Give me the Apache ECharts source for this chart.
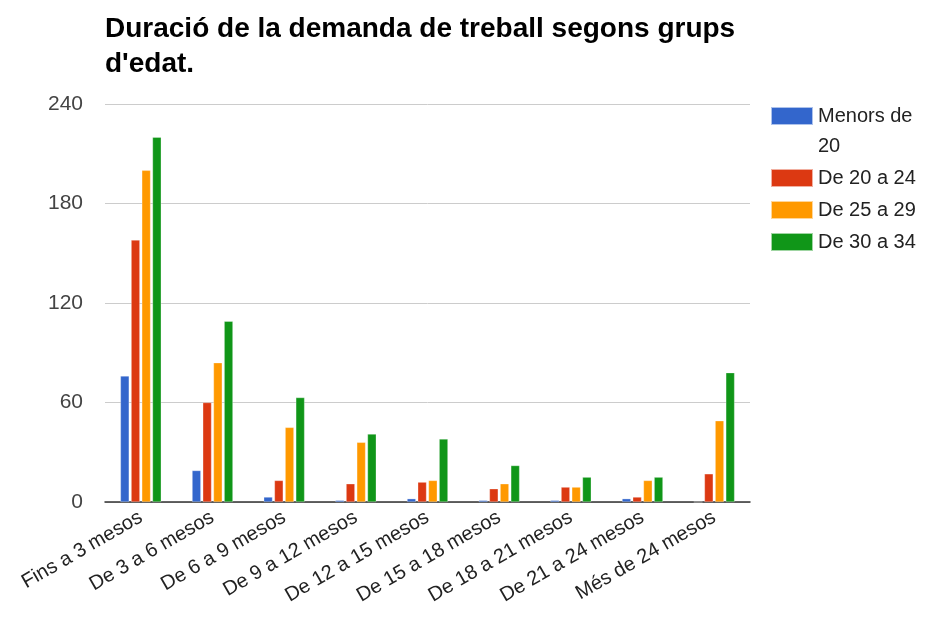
<!DOCTYPE html>
<html>
<head>
<meta charset="utf-8">
<script src="https://cdn.jsdelivr.net/npm/echarts@6/dist/echarts.min.js"></script>
<style>
    html, body { margin: 0; padding: 0; background: #fff; }
    #chart { width: 931px; height: 625px; }
</style>
</head>
<body>
<div id="chart"></div>
<script>
    // === Dades
    const CATEGORIES = [
        "Fins a 3 mesos", "De 3 a 6 mesos", "De 6 a 9 mesos", "De 9 a 12 mesos",
        "De 12 a 15 mesos", "De 15 a 18 mesos", "De 18 a 21 mesos", "De 21 a 24 mesos",
        "Més de 24 mesos"
    ];
    const SERIES_NAMES = ["Menors de 20", "De 20 a 24", "De 25 a 29", "De 30 a 34"];
    const MENORS_20 = [76, 19, 3, 1, 2, 1, 1, 2, 0];
    const DE_20_24 = [158, 60, 13, 11, 12, 8, 9, 3, 17];
    const DE_25_29 = [200, 84, 45, 36, 13, 11, 9, 13, 49];
    const DE_30_34 = [220, 109, 63, 41, 38, 22, 15, 15, 78];
    const Y_TICKS = [0, 60, 120, 180, 240];

    const COLORS = ['#3366cc', '#dc3912', '#ff9900', '#109618'];
    const FONT = 'Arial, "Liberation Sans", sans-serif';

    const chart = echarts.init(document.getElementById('chart'));

    const values = [MENORS_20, DE_20_24, DE_25_29, DE_30_34];

    chart.setOption({
        animation: false,
        color: COLORS,
        title: {
            text: "Duració de la demanda de treball segons grups\nd'edat.",
            left: 105,
            top: 12,
            padding: 0,
            textStyle: {
                fontFamily: FONT,
                fontSize: 28,
                fontWeight: 'bold',
                color: '#000',
                lineHeight: 35
            }
        },
        legend: {
            orient: 'vertical',
            left: 770,
            top: 76,
            padding: 0,
            itemWidth: 42,
            itemHeight: 18,
            itemGap: 12,
            itemTextGap: 13,
            icon: 'rect',
            data: SERIES_NAMES,
            formatter: function (name) {
                // el primer nom es parteix en dues línies com a l'original
                if (name === 'Menors de 20') return '{e| }\n{m|Menors de}\n{s|20}';
                return name;
            },
            textStyle: {
                fontFamily: FONT,
                fontSize: 20,
                color: '#222',
                lineHeight: 20,
                rich: {
                    e: { lineHeight: 16, fontSize: 20, fontFamily: FONT },
                    m: { lineHeight: 44, fontSize: 20, fontFamily: FONT, color: '#222' },
                    s: { lineHeight: 16, fontSize: 20, fontFamily: FONT, color: '#222' }
                }
            }
        },
        grid: {
            left: 105,
            right: 181,
            top: 104,
            bottom: 123,
            containLabel: false
        },
        xAxis: {
            type: 'category',
            data: CATEGORIES,
            axisTick: { show: false },
            axisLine: { lineStyle: { color: '#333', width: 1.5 } },
            axisLabel: {
                interval: 0,
                rotate: 30,
                margin: 14,
                fontFamily: FONT,
                fontSize: 20,
                color: '#222'
            }
        },
        yAxis: {
            type: 'value',
            min: Y_TICKS[0],
            max: Y_TICKS[Y_TICKS.length - 1],
            interval: 60,
            axisLine: { show: false },
            axisTick: { show: false },
            splitLine: { lineStyle: { color: '#ccc', width: 1 } },
            axisLabel: {
                margin: 22,
                fontFamily: FONT,
                fontSize: 21,
                color: '#444'
            }
        },
        series: SERIES_NAMES.map((name, i) => ({
            name: name,
            type: 'bar',
            data: values[i],
            barCategoryGap: '43%',
            barGap: '22%',
            itemStyle: {
                borderColor: 'rgba(255,255,255,0.6)',
                borderWidth: 0.5
            }
        }))
    });
</script>
</body>
</html>
